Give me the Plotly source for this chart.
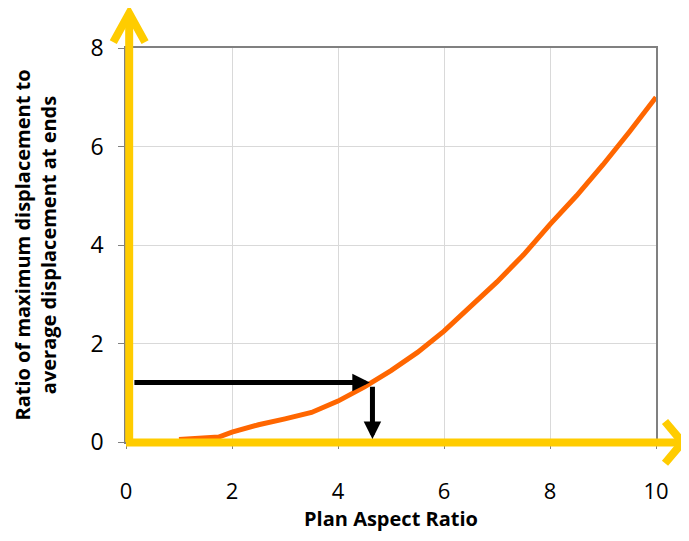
import plotly.graph_objects as go

# Data
aspect_ratio = [1.0, 1.5, 1.75, 2.0, 2.5, 3.0, 3.5, 4.0, 4.5, 5.0, 5.5, 6.0, 6.5, 7.0, 7.5, 8.0, 8.5, 9.0, 9.5, 10.0]
disp_ratio = [0.05, 0.1, 0.1, 0.2, 0.35, 0.47, 0.6, 0.83, 1.12, 1.45, 1.82, 2.25, 2.75, 3.25, 3.8, 4.42, 5.0, 5.63, 6.3, 7.0]

x_ticks = [0, 2, 4, 6, 8, 10]
y_ticks = [0, 2, 4, 6, 8]

# Example reading shown by black arrows
reading_x = 4.62
reading_y = 1.21
reading_start_x = 0.13

YELLOW = "#FFCC00"
ORANGE = "#FF6600"
FONT = "Open Sans"

fig = go.Figure()
fig.add_trace(go.Scatter(
    x=aspect_ratio, y=disp_ratio, mode="lines",
    line=dict(color=ORANGE, width=5), showlegend=False, hoverinfo="skip"))

# Yellow axis arrows (paper coords)
yellow_paths = [
    "M 0.006,0 L 0.006,1.088",
    "M -0.024,1.015 L 0.006,1.088 L 0.036,1.015",
    "M 0,-0.001 L 1.05,-0.001",
    "M 1.017,0.052 L 1.05,-0.001 L 1.017,-0.054",
]
for p in yellow_paths:
    fig.add_shape(type="path", path=p, xref="paper", yref="paper",
                  line=dict(color=YELLOW, width=8))

# Black arrows
fig.add_annotation(x=reading_x - 0.02, y=reading_y, ax=reading_start_x, ay=reading_y,
                   xref="x", yref="y", axref="x", ayref="y", text="",
                   showarrow=True, arrowhead=2, arrowwidth=5, arrowsize=0.7,
                   arrowcolor="black")
fig.add_annotation(x=reading_x + 0.03, y=0.06, ax=reading_x + 0.03, ay=reading_y - 0.06,
                   xref="x", yref="y", axref="x", ayref="y", text="",
                   showarrow=True, arrowhead=2, arrowwidth=5, arrowsize=0.7,
                   arrowcolor="black")

fig.update_xaxes(
    range=[0, 10], tickvals=x_ticks, ticktext=[str(v) for v in x_ticks],
    showgrid=True, gridcolor="#d9d9d9", gridwidth=1,
    showline=True, linecolor="#808080", linewidth=1.5, mirror=True,
    ticks="outside", ticklen=5, tickcolor="#808080",
    tickfont=dict(family=FONT, size=22, color="black"),
    ticklabelstandoff=24, zeroline=False,
    title=dict(text="<b>Plan Aspect Ratio</b>", font=dict(family=FONT, size=20, color="black"), standoff=2),
)
fig.update_yaxes(
    range=[0, 8], tickvals=y_ticks,
    showgrid=True, gridcolor="#d9d9d9", gridwidth=1,
    showline=True, linecolor="#808080", linewidth=1.5, mirror=True,
    ticks="outside", ticklen=6, tickcolor="#808080",
    tickfont=dict(family=FONT, size=23, color="black"),
    ticklabelstandoff=10, zeroline=False,
    title=dict(text="<b>Ratio of maximum displacement to<br>average displacement at ends</b>",
               font=dict(family=FONT, size=20, color="black"), standoff=28),
)

fig.update_layout(
    width=673, height=525,
    margin=dict(l=118, r=22, t=40, b=90),
    plot_bgcolor="white", paper_bgcolor="white",
    showlegend=False,
)

fig.write_html("out.html")
